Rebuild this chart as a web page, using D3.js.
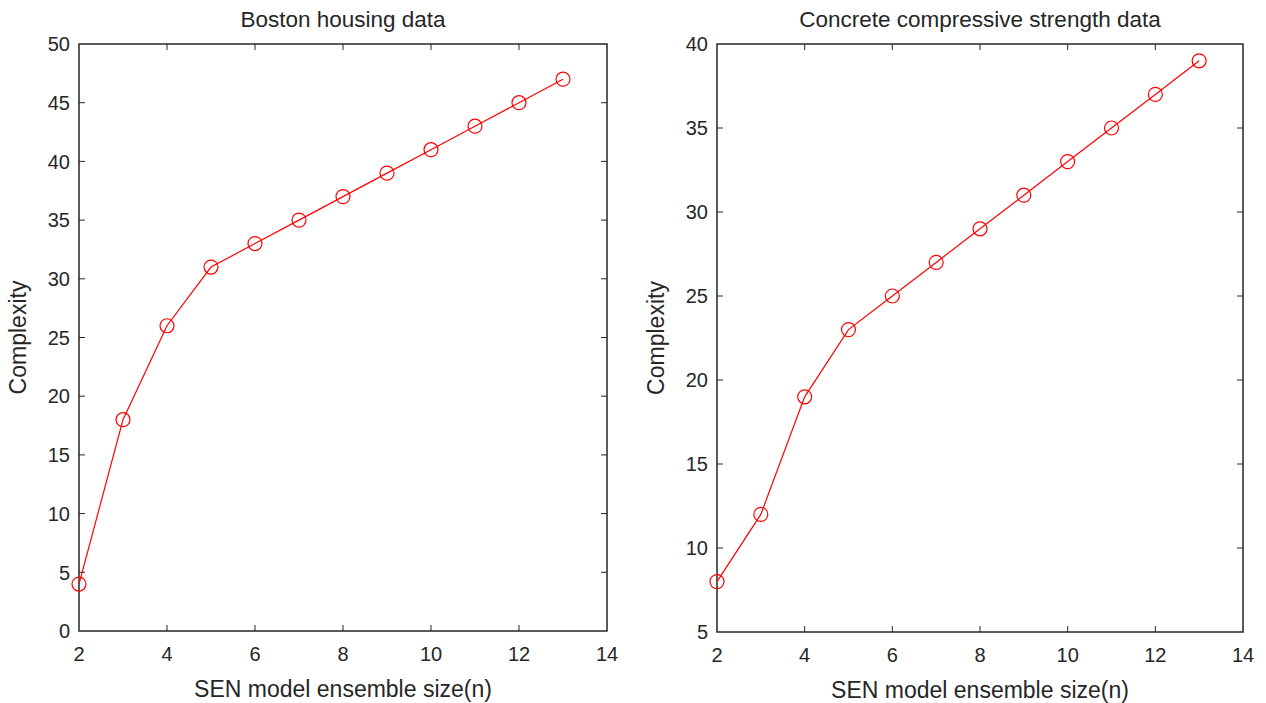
<!DOCTYPE html>
<html>
<head>
<meta charset="utf-8">
<script src="https://cdn.jsdelivr.net/npm/d3@7"></script>
<style>
  body { margin: 0; background: #fff; }
  text { font-family: "Liberation Sans", Arial, sans-serif; fill: #262626; }
</style>
</head>
<body>
<div id="chart"></div>
<script>
// Ensemble sizes and complexity values
var ensembleSize = [2, 3, 4, 5, 6, 7, 8, 9, 10, 11, 12, 13];
var bostonComplexity = [4, 18, 26, 31, 33, 35, 37, 39, 41, 43, 45, 47];
var concreteComplexity = [8, 12, 19, 23, 25, 27, 29, 31, 33, 35, 37, 39];
var xTicks = [2, 4, 6, 8, 10, 12, 14];
var bostonYTicks = [0, 5, 10, 15, 20, 25, 30, 35, 40, 45, 50];
var concreteYTicks = [5, 10, 15, 20, 25, 30, 35, 40];

var svg_Width = 1266;
var svg_Height = 703;

var svg = d3.select("#chart")
  .append("svg")
  .attr("width", svg_Width)
  .attr("height", svg_Height);

var panels = [
  { title: "Boston housing data", values: bostonComplexity, yDomain: [0, 50], yTicks: bostonYTicks,
    left: 79, right: 607, top: 44, bottom: 631 },
  { title: "Concrete compressive strength data", values: concreteComplexity, yDomain: [5, 40], yTicks: concreteYTicks,
    left: 717, right: 1243, top: 44, bottom: 632 }
];

panels.forEach(function(p) {
  var x = d3.scaleLinear().domain([2, 14]).range([p.left, p.right]);
  var y = d3.scaleLinear().domain(p.yDomain).range([p.bottom, p.top]);
  var g = svg.append("g");
  var tickLen = 6;

  // inward ticks on all four sides
  p.yTicks.forEach(function(t) {
    if (t === p.yDomain[0] || t === p.yDomain[1]) return;
    g.append("line").attr("x1", p.left).attr("x2", p.left + tickLen)
      .attr("y1", y(t)).attr("y2", y(t)).attr("stroke", "#262626");
    g.append("line").attr("x1", p.right).attr("x2", p.right - tickLen)
      .attr("y1", y(t)).attr("y2", y(t)).attr("stroke", "#262626");
  });
  xTicks.forEach(function(t) {
    if (t === 2 || t === 14) return;
    g.append("line").attr("y1", p.bottom).attr("y2", p.bottom - tickLen)
      .attr("x1", x(t)).attr("x2", x(t)).attr("stroke", "#262626");
    g.append("line").attr("y1", p.top).attr("y2", p.top + tickLen)
      .attr("x1", x(t)).attr("x2", x(t)).attr("stroke", "#262626");
  });

  // box
  g.append("rect")
    .attr("x", p.left).attr("y", p.top)
    .attr("width", p.right - p.left).attr("height", p.bottom - p.top)
    .attr("fill", "none").attr("stroke", "#262626").attr("stroke-width", 1.5);

  // tick labels
  g.selectAll(".ylab").data(p.yTicks).enter().append("text")
    .attr("x", p.left - 9).attr("y", d => y(d))
    .attr("dy", "0.36em").attr("text-anchor", "end")
    .style("font-size", "20px").text(d => d);
  g.selectAll(".xlab").data(xTicks).enter().append("text")
    .attr("x", d => x(d)).attr("y", p.bottom + 30)
    .attr("text-anchor", "middle")
    .style("font-size", "20px").text(d => d);

  // line and markers
  var line = d3.line().x((d, i) => x(ensembleSize[i])).y(d => y(d));
  g.append("path").datum(p.values)
    .attr("d", line).attr("fill", "none").attr("stroke", "#ff0000").attr("stroke-width", 1.2);
  g.selectAll(".pt").data(p.values).enter().append("circle")
    .attr("cx", (d, i) => x(ensembleSize[i])).attr("cy", d => y(d))
    .attr("r", 7).attr("fill", "none").attr("stroke", "#ff0000").attr("stroke-width", 1.2);

  // titles and axis labels
  var cx = (p.left + p.right) / 2;
  g.append("text").attr("x", cx).attr("y", 27).attr("text-anchor", "middle")
    .style("font-size", "22.5px").text(p.title);
  g.append("text").attr("x", cx).attr("y", p.bottom + 66).attr("text-anchor", "middle")
    .style("font-size", "23px").text("SEN model ensemble size(n)");
  g.append("text").attr("transform", "rotate(-90)")
    .attr("x", -(p.top + p.bottom) / 2).attr("y", p.left - 53)
    .attr("text-anchor", "middle")
    .style("font-size", "23px").text("Complexity");
});
</script>
</body>
</html>
